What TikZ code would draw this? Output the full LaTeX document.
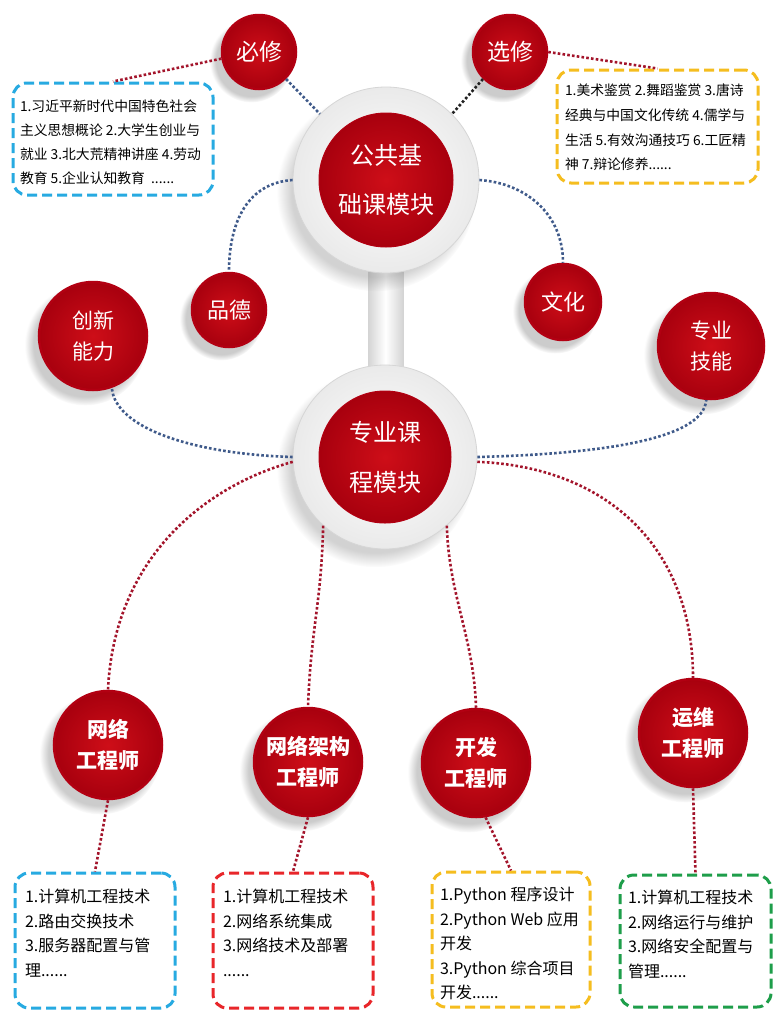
\documentclass[tikz,border=0pt]{standalone}
\usepackage{fontspec}
\setmainfont{Noto Sans CJK SC}
\usetikzlibrary{shadows,fadings}
\definecolor{redin}{RGB}{206,14,24}
\definecolor{redout}{RGB}{168,0,14}
\definecolor{rim}{RGB}{178,0,18}
\definecolor{ringgray}{RGB}{234,234,234}
\definecolor{ringedge}{RGB}{214,214,214}
\definecolor{bargray}{RGB}{212,212,212}
\definecolor{dotred}{RGB}{163,20,43}
\definecolor{dotblue}{RGB}{63,90,138}
\definecolor{dotblack}{RGB}{34,34,34}
\definecolor{boxcyan}{RGB}{39,170,225}
\definecolor{boxgold}{RGB}{245,189,31}
\definecolor{boxred}{RGB}{232,38,42}
\definecolor{boxgreen}{RGB}{30,158,74}
\pgfdeclarelayer{background}
\pgfsetlayers{background,main}
\newcommand\fs[2]{\fontsize{#1}{#2}\selectfont}
\newcommand\boxtxt[7]{\parbox[c][#2][t]{#1}{\fs{#5}{#6}\raggedright\leftskip=#3\relax\vspace*{#4}#7\par}}
\tikzset{
  dots/.style={line width=2.6pt, dash pattern=on 2.6pt off 2.2pt},
  redc/.style={circle, inner sep=0pt, minimum size=#1, draw=rim, line width=2.5pt,
    inner color=redin, outer color=redout, text=white, align=center,
    circular drop shadow={shadow xshift=-7pt, shadow yshift=-8pt, opacity=0.4, shadow scale=1.12}},
  ringc/.style={circle, inner sep=0pt, minimum size=#1, inner color=white, outer color=ringgray,
    draw=ringedge, line width=0.8pt,
    circular drop shadow={shadow xshift=-9pt, shadow yshift=-11pt, opacity=0.35, shadow scale=1.07}},
  innerc/.style={circle, inner sep=0pt, minimum size=#1, draw=rim, line width=1pt,
    inner color=redin, outer color=redout, text=white, align=center},
  dbox/.style={draw=#1, line width=3pt, dash pattern=on 10pt off 5pt, rounded corners=14pt,
    inner sep=0pt, fill=white}
}
\begin{document}
\begin{tikzpicture}[x=1pt, y=-1pt]
\useasboundingbox (0,0) rectangle (773,1010);

% big module circles
\node[ringc=186pt] (pub) at (386,180) {};
\node[innerc=134pt, font=\fs{24}{49}] (pubin) at (pub.center) {公共基\\础课模块};
\node[ringc=184pt] (zy) at (385,457) {};
\node[innerc=132pt, font=\fs{24}{50}] (zyin) at (zy.center) {专业课\\程模块};

% background and bar between modules
\begin{pgfonlayer}{background}
\fill[white] (0,0) rectangle (773,1010);
\shade[left color=bargray, right color=bargray, middle color=white, draw=bargray, line width=0.8pt]
  ([xshift=-18pt]pub.center) rectangle ([xshift=18pt]zy.center);
\end{pgfonlayer}

% small circles
\node[redc=74pt, font=\fs{23}{30}] (bixiu) at (259,52) {必修};
\node[redc=74pt, font=\fs{23}{30}] (xuanxiu) at (510,52) {选修};
\node[redc=74pt, font=\fs{22}{30}] (pinde) at (229,310) {品德};
\node[redc=76pt, font=\fs{22}{30}] (wenhua) at (563,302) {文化};
\node[redc=108pt, font=\fs{21}{31}] (chuangxin) at (93,336) {创新\\能力};
\node[redc=106pt, font=\fs{21}{31}] (zhuanye) at (711,346) {专业\\技能};

\node[redc=108pt, font=\fs{21}{31}\bfseries] (wl) at (108,745) {网络\\工程师};
\node[redc=108pt, font=\fs{21}{31}\bfseries] (wljg) at (308,762) {网络架构\\工程师};
\node[redc=108pt, font=\fs{21}{31}\bfseries] (kf) at (476,763) {开发\\工程师};
\node[redc=108pt, font=\fs{21}{31}\bfseries] (yw) at (693,733) {运维\\工程师};

% text boxes
\node[dbox=boxcyan] (ta) at (113,139) {\boxtxt{200pt}{112pt}{7pt}{17pt}{13.8}{24}{1.习近平新时代中国特色社会\\主义思想概论 2.大学生创业与\\就业 3.北大荒精神讲座 4.劳动\\教育 5.企业认知教育\ \ ......}};
\node[dbox=boxgold] (tb) at (657.5,126.5) {\boxtxt{201pt}{113pt}{8pt}{14pt}{13.8}{24.7}{1.美术鉴赏 2.舞蹈鉴赏 3.唐诗\\经典与中国文化传统 4.儒学与\\生活 5.有效沟通技巧 6.工匠精\\神 7.辩论修养......}};

\node[dbox=boxcyan] (c1) at (95,940.5) {\boxtxt{160pt}{135pt}{10pt}{16pt}{16}{24.5}{1.计算机工程技术\\2.路由交换技术\\3.服务器配置与管\\理......}};
\node[dbox=boxred] (c2) at (293,940.5) {\boxtxt{160pt}{135pt}{10pt}{16pt}{16}{24.5}{1.计算机工程技术\\2.网络系统集成\\3.网络技术及部署\\......}};
\node[dbox=boxgold] (c3) at (511,939.5) {\boxtxt{158pt}{135pt}{8pt}{15pt}{16}{24.5}{1.Python 程序设计\\2.Python Web 应用\\开发\\3.Python 综合项目\\开发......}};
\node[dbox=boxgreen] (c4) at (695.5,941) {\boxtxt{151pt}{132pt}{8pt}{15pt}{16}{24.5}{1.计算机工程技术\\2.网络运行与维护\\3.网络安全配置与\\管理......}};

% connectors: top
\draw[dots, dotred] (bixiu.190) -- (ta.north);
\draw[dots, dotblue] (bixiu.-45) -- (pub.135);
\draw[dots, dotblack] (xuanxiu.225) -- (pub.45);
\draw[dots, dotred] (xuanxiu.east) -- (tb.north);
\draw[dots, dotblue] (pub.west) .. controls +(-45,3) and +(0,-50) .. (pinde.north);
\draw[dots, dotblue] (pub.east) .. controls +(45,3) and +(0,-50) .. (wenhua.north);

% connectors: middle
\draw[dots, dotblue] (zy.west) .. controls +(-100,-3) and +(3,40) .. (chuangxin.-70);
\draw[dots, dotblue] (zy.east) .. controls +(120,-3) and +(-3,40) .. (zhuanye.-95);
\draw[dots, dotred] (zy.183) .. controls +(-90,25) and +(6,-130) .. (wl.north);
\draw[dots, dotred] (zy.228) .. controls +(-2,80) and +(3,-80) .. (wljg.north);
\draw[dots, dotred] (zy.312) .. controls +(2,70) and +(-2,-70) .. (kf.north);
\draw[dots, dotred] (zy.-3) .. controls +(130,5) and +(0,-130) .. (yw.north);

% connectors: bottom
\draw[dots, dotred] (wl.south) -- (c1.north);
\draw[dots, dotred] (wljg.south) -- (c2.north);
\draw[dots, dotred] (kf.-80) -- (c3.north);
\draw[dots, dotred] (yw.south) -- (c4.north);
\end{tikzpicture}
\end{document}
